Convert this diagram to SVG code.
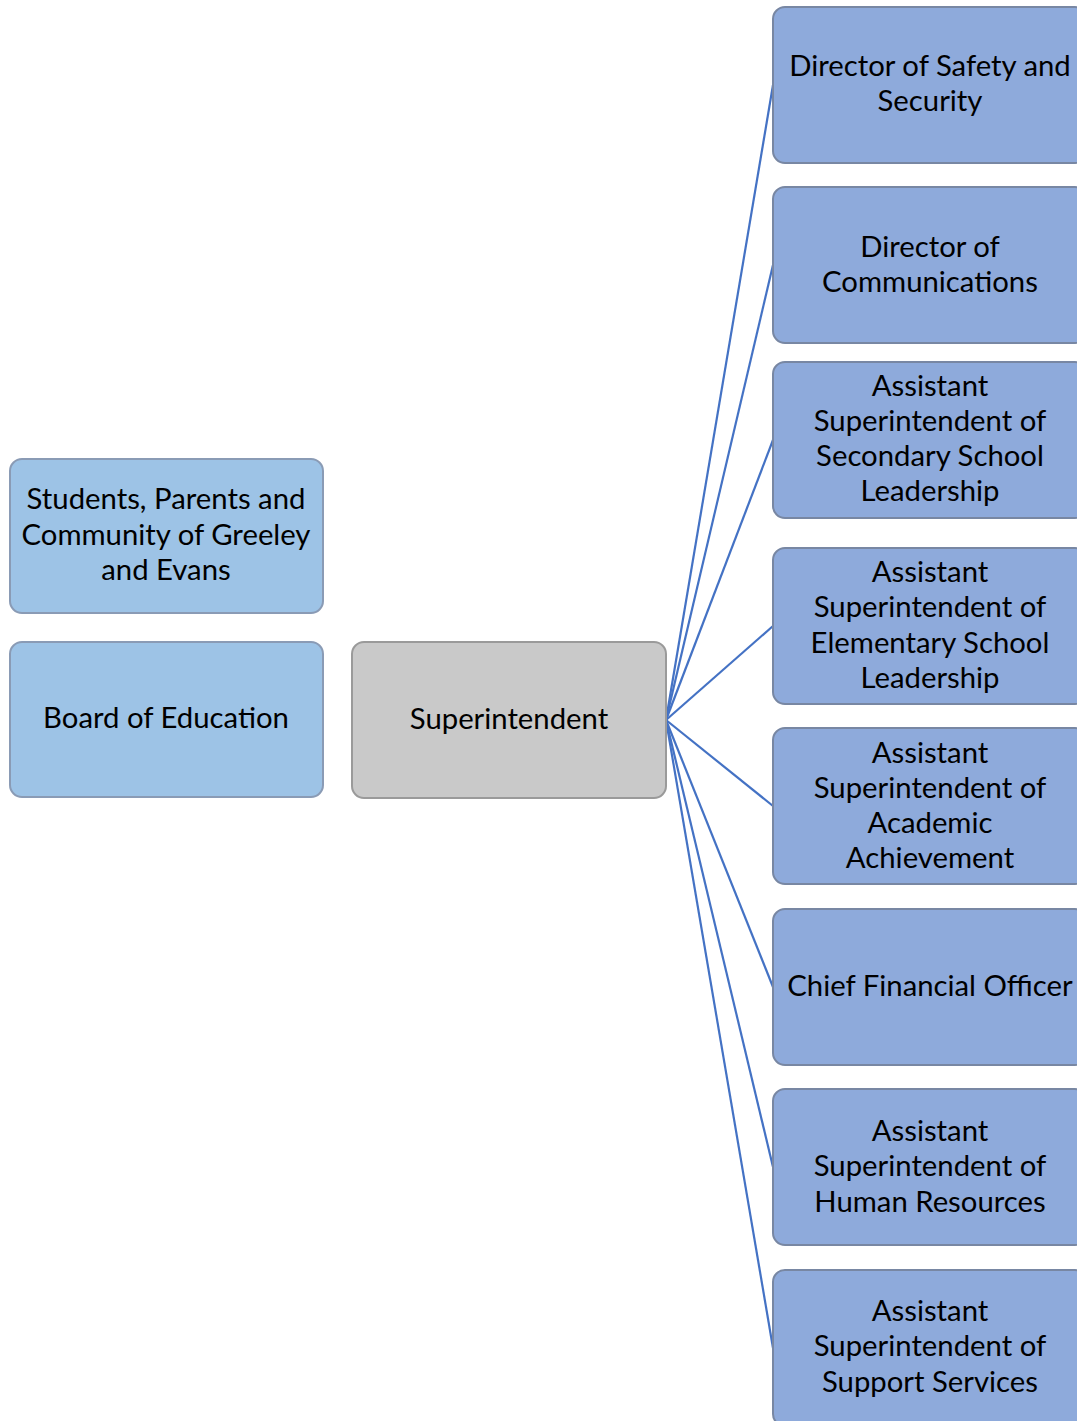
<svg xmlns="http://www.w3.org/2000/svg" width="1077" height="1421" viewBox="0 0 1077 1421">
  <style>
    .box { stroke-width: 2; }
    .blue { fill: #9dc3e6; stroke: #8a9bb5; }
    .staff { fill: #8eaadb; stroke: #7887a3; }
    .grey { fill: #c9c9c9; stroke: #9a9a9a; }
    text { font-family: Lato, "Open Sans", "Liberation Sans", sans-serif; font-size: 29.3px; fill: #000; text-anchor: middle; }
    .link { stroke: #4472c4; stroke-width: 2.2; fill: none; }
  </style>

  <!-- connectors from the superintendent to each direct report -->
  <g id="connectors">
    <line class="link" x1="666" y1="720" x2="773" y2="85"/>
    <line class="link" x1="666" y1="720" x2="773" y2="265"/>
    <line class="link" x1="666" y1="720" x2="773" y2="440"/>
    <line class="link" x1="666" y1="720" x2="773" y2="626"/>
    <line class="link" x1="666" y1="720" x2="773" y2="806"/>
    <line class="link" x1="666" y1="720" x2="773" y2="987"/>
    <line class="link" x1="666" y1="720" x2="773" y2="1167"/>
    <line class="link" x1="666" y1="720" x2="773" y2="1348"/>
  </g>

  <g id="community">
    <rect class="box blue" x="10" y="459" width="313" height="154" rx="12"/>
    <text x="166" y="509">Students, Parents and</text>
    <text x="166" y="545">Community of Greeley</text>
    <text x="166" y="580">and Evans</text>
  </g>

  <g id="board">
    <rect class="box blue" x="10" y="642" width="313" height="155" rx="12"/>
    <text x="166" y="728">Board of Education</text>
  </g>

  <g id="superintendent">
    <rect class="box grey" x="352" y="642" width="314" height="156" rx="12"/>
    <text x="509" y="729">Superintendent</text>
  </g>

  <g id="safety">
    <rect class="box staff" x="773" y="7" width="314" height="156" rx="12"/>
    <text x="930" y="76">Director of Safety and</text>
    <text x="930" y="111">Security</text>
  </g>

  <g id="communications">
    <rect class="box staff" x="773" y="187" width="314" height="156" rx="12"/>
    <text x="930" y="257">Director of</text>
    <text x="930" y="292">Communications</text>
  </g>

  <g id="secondary">
    <rect class="box staff" x="773" y="362" width="314" height="156" rx="12"/>
    <text x="930" y="396">Assistant</text>
    <text x="930" y="431">Superintendent of</text>
    <text x="930" y="466">Secondary School</text>
    <text x="930" y="501">Leadership</text>
  </g>

  <g id="elementary">
    <rect class="box staff" x="773" y="548" width="314" height="156" rx="12"/>
    <text x="930" y="582">Assistant</text>
    <text x="930" y="617">Superintendent of</text>
    <text x="930" y="653">Elementary School</text>
    <text x="930" y="688">Leadership</text>
  </g>

  <g id="academic">
    <rect class="box staff" x="773" y="728" width="314" height="156" rx="12"/>
    <text x="930" y="763">Assistant</text>
    <text x="930" y="798">Superintendent of</text>
    <text x="930" y="833">Academic</text>
    <text x="930" y="868">Achievement</text>
  </g>

  <g id="finance">
    <rect class="box staff" x="773" y="909" width="314" height="156" rx="12"/>
    <text x="930" y="996">Chief Financial Officer</text>
  </g>

  <g id="human-resources">
    <rect class="box staff" x="773" y="1089" width="314" height="156" rx="12"/>
    <text x="930" y="1141">Assistant</text>
    <text x="930" y="1176">Superintendent of</text>
    <text x="930" y="1212">Human Resources</text>
  </g>

  <g id="support">
    <rect class="box staff" x="773" y="1270" width="314" height="156" rx="12"/>
    <text x="930" y="1321">Assistant</text>
    <text x="930" y="1356">Superintendent of</text>
    <text x="930" y="1392">Support Services</text>
  </g>
</svg>
